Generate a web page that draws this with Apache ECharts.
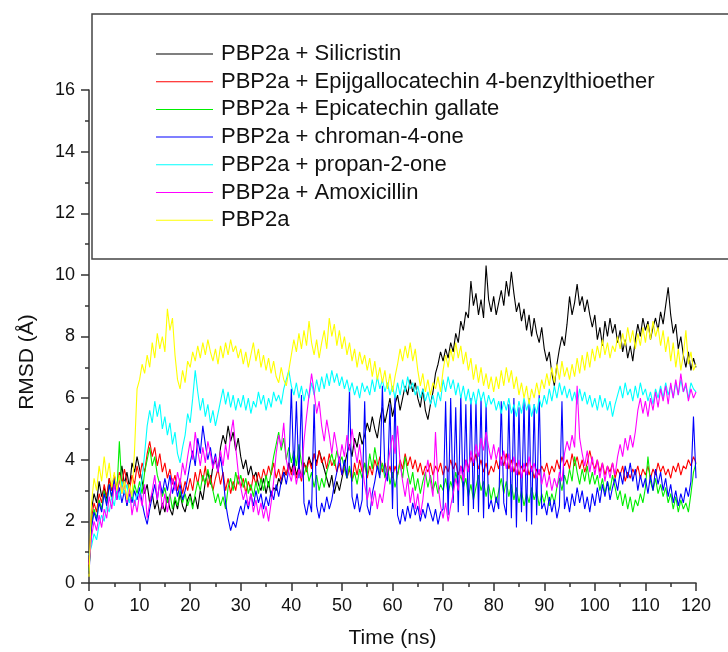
<!DOCTYPE html>
<html>
<head>
<meta charset="utf-8">
<script src="https://cdn.jsdelivr.net/npm/echarts@6/dist/echarts.min.js"></script>
<style>
html,body{margin:0;padding:0;background:#fff;}
#chart{width:728px;height:652px;}
</style>
</head>
<body>
<div id="chart"></div>
<script>
const seriesNames = [
  'PBP2a + Silicristin',
  'PBP2a + Epijgallocatechin 4-benzylthioether',
  'PBP2a + Epicatechin gallate',
  'PBP2a + chroman-4-one',
  'PBP2a + propan-2-one',
  'PBP2a + Amoxicillin',
  'PBP2a'
];
const seriesColors = ['#000000','#ff0000','#00ee00','#0000ff','#00ffff','#ff00ff','#ffff00'];
const timeStep = 0.5; // ns between samples, from 0 to 120 ns

const silicristin = [
0.3,2.4,2.9,2.6,3.3,2.8,3.1,2.7,3.4,3.0,3.5,2.9,3.3,3.8,3.2,3.6,3.1,3.9,3.6,4.1,
3.7,3.3,2.9,3.2,2.6,2.9,2.4,2.7,2.2,2.6,2.3,2.8,2.4,2.2,2.7,2.4,2.9,2.5,2.3,2.7,
2.9,2.5,2.8,2.4,3.0,2.7,3.3,3.6,3.2,3.8,4.0,3.6,4.4,4.8,4.5,5.1,4.6,4.9,4.3,4.7,
4.1,3.7,4.0,3.5,3.8,3.4,3.6,3.2,3.0,3.4,2.9,3.3,2.8,3.1,3.0,3.4,3.2,3.6,3.5,3.9,
3.6,4.0,3.5,3.8,3.4,3.9,3.7,4.1,3.8,4.2,3.9,4.3,4.0,3.7,3.4,3.1,3.5,2.9,3.3,3.0,
3.4,3.8,4.2,4.5,4.1,4.7,4.4,4.9,4.5,4.8,5.2,4.9,5.4,5.0,4.7,5.3,5.7,5.2,5.6,6.0,
5.4,5.8,6.1,5.6,6.0,6.4,6.1,6.6,6.2,6.5,6.0,5.7,6.3,5.6,5.3,5.8,6.2,6.8,7.1,7.5,
7.2,7.6,7.3,7.8,7.5,8.1,7.8,8.5,8.2,8.8,8.6,9.8,9.0,9.4,8.7,9.2,8.6,10.3,9.2,8.8,
9.3,8.7,9.1,9.5,9.0,9.8,9.3,10.1,9.4,8.8,9.1,8.5,8.9,8.2,8.7,8.0,8.6,8.1,7.8,8.3,
7.6,7.2,7.5,6.8,6.4,7.1,7.6,8.0,7.7,8.4,9.3,8.7,9.1,9.7,9.0,9.3,8.8,9.2,8.7,8.3,
8.7,7.9,8.3,7.7,8.5,8.0,8.6,8.1,8.4,7.8,8.2,7.5,7.9,7.3,7.7,7.2,7.9,8.4,8.0,8.6,
8.2,8.5,7.9,8.3,8.6,8.2,8.8,8.4,9.0,9.6,8.7,8.1,8.4,7.6,8.0,7.4,7.0,7.5,6.9,7.3,7.0
];
const epijgallocatechin = [
0.5,2.1,2.6,2.3,2.9,2.6,3.2,2.8,3.4,3.0,3.5,3.1,3.6,3.2,3.7,3.3,3.0,3.5,3.2,3.8,
3.4,3.9,3.6,4.2,4.6,4.1,4.4,3.8,4.2,3.6,3.9,3.4,3.7,3.2,3.5,3.0,3.4,2.9,3.3,3.0,
3.4,3.0,3.6,3.2,3.7,3.3,3.8,3.1,3.5,3.0,3.4,3.7,3.2,3.6,3.0,3.4,2.9,3.3,3.0,3.5,
3.1,3.4,2.9,3.3,3.0,3.5,3.2,3.6,3.3,3.7,3.4,3.8,3.5,3.9,3.4,3.7,3.3,3.8,3.5,3.9,
3.5,3.8,3.4,3.7,3.3,3.9,3.6,4.0,3.7,4.2,3.8,4.3,3.9,4.1,3.7,4.2,3.8,4.0,3.6,3.9,
3.5,3.8,3.4,3.7,3.3,3.9,3.5,4.0,3.6,3.9,3.4,3.8,3.5,4.0,3.7,4.1,3.6,3.9,3.5,3.8,
3.4,3.8,3.5,4.0,3.7,4.2,3.8,4.1,3.7,4.0,3.6,3.9,3.5,3.8,3.6,3.9,3.5,3.8,3.6,3.9,
3.5,3.8,3.6,4.0,3.7,3.9,3.5,3.8,3.6,4.0,3.7,4.1,3.8,4.2,3.7,4.0,3.6,3.9,3.5,3.8,
3.6,4.0,3.7,4.1,3.8,4.2,3.7,4.0,3.6,3.9,3.5,3.8,3.6,3.9,3.5,3.8,3.4,3.7,3.5,3.8,
3.6,3.9,3.5,3.8,3.6,4.0,3.7,4.1,3.8,4.0,3.7,4.2,3.8,4.1,3.7,4.0,3.6,3.9,4.3,3.9,
3.7,4.0,3.6,3.9,3.5,3.8,3.6,3.9,3.4,3.7,3.5,3.8,3.3,3.6,3.4,3.7,3.5,3.8,3.4,3.7,
3.5,3.8,3.4,3.7,3.5,3.9,3.6,3.8,3.5,3.7,3.4,3.8,3.6,3.9,3.5,3.8,3.7,4.0,3.8,4.1,3.9
];
const epicatechinGallate = [
0.4,1.9,2.4,2.1,2.7,2.4,3.0,2.6,3.2,2.7,3.4,2.9,4.6,3.1,3.3,2.5,3.1,2.7,3.2,2.9,
3.3,2.9,3.6,4.0,4.4,3.8,4.1,3.5,3.2,2.8,3.1,2.6,2.9,2.4,2.8,2.5,3.0,2.6,2.9,2.5,
2.8,2.4,2.9,3.3,3.0,3.5,3.2,3.7,3.3,3.0,2.6,2.9,2.5,2.8,2.4,3.1,3.4,3.0,3.6,3.2,
3.5,3.1,3.4,2.9,3.2,2.8,3.3,2.9,3.4,3.0,3.5,3.1,3.6,4.1,4.5,4.9,4.3,4.7,4.0,4.4,
3.9,4.3,3.8,4.5,3.9,3.5,3.8,3.3,3.6,3.1,3.5,3.0,3.4,3.1,3.6,3.9,4.2,3.8,4.3,3.9,
4.1,3.7,3.4,3.8,3.3,3.6,3.2,3.7,3.4,3.9,3.5,4.2,3.7,4.4,3.9,3.5,3.9,3.4,3.8,3.2,
3.6,3.1,3.5,3.9,3.4,4.1,3.6,3.2,3.6,3.0,3.4,2.9,3.3,3.6,3.1,3.5,3.0,3.3,2.9,3.2,
3.0,3.4,2.9,3.3,3.0,3.6,3.2,3.5,3.1,3.4,2.8,3.2,2.7,3.1,3.5,3.0,3.3,2.8,3.2,2.7,
3.1,2.6,3.0,3.4,2.9,3.3,2.8,3.2,2.7,3.1,2.6,3.0,2.5,2.9,2.6,3.1,2.7,3.0,2.5,2.9,
2.6,3.0,2.5,2.9,2.6,3.1,3.4,3.0,3.5,3.2,3.7,3.3,4.1,3.6,3.2,3.7,3.3,3.8,3.2,3.6,
3.2,3.5,3.0,3.4,2.9,3.3,3.0,3.5,3.1,2.7,3.0,2.5,2.9,2.4,2.8,2.3,2.7,2.5,2.9,2.6,
3.1,4.1,3.3,3.0,3.4,2.9,3.2,2.8,3.1,2.6,2.9,2.4,2.8,2.3,2.7,2.4,2.6,2.3,2.9,3.6,3.9
];
const chromanone = [
0.3,1.8,2.3,2.0,2.6,2.3,2.9,2.5,3.2,2.8,3.4,2.7,3.1,2.6,3.0,2.5,2.9,2.6,3.0,2.7,
3.1,2.6,2.2,1.9,2.4,2.8,3.2,2.7,3.3,2.9,3.4,3.0,3.5,2.9,3.3,2.8,3.2,2.7,3.0,3.4,
3.9,4.3,3.8,4.7,4.2,5.1,4.5,4.0,4.4,3.8,4.2,3.6,4.1,3.5,2.6,2.1,1.7,2.0,1.8,2.2,
2.5,2.2,2.7,2.4,2.9,2.5,3.0,2.6,2.9,2.4,2.8,2.5,3.0,2.7,3.2,2.8,3.3,3.6,3.2,3.7,
6.3,3.5,5.9,3.4,6.1,2.6,2.2,2.7,2.3,5.8,2.5,2.1,2.6,2.3,2.8,2.4,2.7,3.2,3.6,4.1,
3.5,4.0,3.4,6.3,2.8,2.4,2.9,2.3,2.7,5.9,2.5,2.2,2.9,3.3,3.8,3.4,6.4,3.6,3.3,5.8,
2.4,6.1,2.2,1.9,2.4,2.0,2.5,2.1,2.6,2.2,2.5,2.0,2.4,2.1,2.6,2.3,2.0,2.4,1.9,2.3,
2.4,5.9,2.2,6.0,2.6,5.7,2.3,6.1,2.5,5.8,2.2,6.0,2.4,5.9,2.3,6.0,2.1,5.8,2.4,2.7,
2.3,2.8,2.4,5.9,2.6,2.2,5.8,2.1,6.0,1.8,5.7,2.3,5.9,2.0,6.0,1.9,5.8,2.2,6.1,2.4,
2.6,2.2,2.8,2.3,2.7,2.1,2.5,5.9,2.4,2.8,2.3,2.9,2.5,3.1,2.6,3.0,2.4,2.8,2.3,2.9,
2.5,3.1,2.6,3.2,2.8,3.3,2.7,3.1,3.4,3.0,3.6,3.2,3.8,3.4,3.9,3.3,3.7,3.0,3.5,3.1,
3.4,2.9,3.5,3.0,3.7,3.2,3.6,3.0,3.4,2.8,3.2,2.6,3.0,2.5,2.9,2.6,3.1,2.8,3.3,5.4,3.4
];
const propanone = [
0.9,1.2,1.6,1.4,1.9,2.2,2.0,2.5,2.3,2.8,2.5,3.1,2.7,3.3,2.9,3.2,2.6,3.0,2.5,2.9,
2.8,3.4,4.2,5.1,5.6,5.2,5.9,5.4,5.8,5.0,5.4,4.8,5.2,4.5,4.9,4.2,3.9,4.4,4.8,5.5,
5.2,6.0,6.9,6.2,5.6,6.0,5.4,5.8,5.2,5.6,5.1,5.5,5.9,6.3,5.8,6.2,5.7,6.1,5.6,6.0,
5.7,6.1,5.6,6.0,5.5,5.9,5.7,6.2,5.8,6.1,5.6,6.0,5.7,6.2,5.9,6.1,5.8,6.3,6.6,6.9,
6.4,6.1,6.5,6.0,6.4,5.9,6.3,6.0,6.5,6.1,6.6,6.2,6.7,6.3,6.8,6.4,6.9,6.5,6.8,6.4,
6.7,6.3,6.6,6.2,6.5,6.1,6.4,6.0,6.5,6.2,6.4,6.1,6.6,6.2,6.7,6.3,6.6,6.2,6.5,6.1,
6.4,6.0,6.5,6.1,6.6,6.2,6.7,6.3,6.5,6.1,6.4,6.0,6.3,5.9,6.2,5.8,6.1,5.7,6.2,5.9,
6.6,6.2,6.7,6.3,6.6,6.1,6.5,6.0,6.4,5.9,6.3,5.8,6.2,5.8,6.3,5.9,6.2,5.7,6.1,5.8,
6.0,5.6,5.9,5.5,5.9,5.6,6.0,5.5,5.8,5.4,5.9,5.5,6.0,5.6,5.9,5.4,5.8,5.5,6.0,5.7,
6.1,5.8,6.3,5.9,6.4,6.0,6.5,6.1,6.4,6.0,6.3,5.9,6.2,5.8,6.3,5.9,6.2,5.8,6.1,5.7,
6.0,5.6,6.1,5.7,6.0,5.6,5.9,5.4,5.8,6.1,6.4,6.0,6.5,6.1,6.3,5.9,6.4,6.0,6.5,6.1,
6.3,5.9,6.2,5.8,6.3,6.0,6.4,6.0,6.5,6.1,6.4,6.0,6.5,6.1,6.6,6.2,6.4,6.0,6.5,6.3,6.2
];
const amoxicillin = [
0.6,1.5,2.0,1.7,2.2,1.8,2.4,2.1,2.8,2.4,3.2,2.7,3.5,2.9,3.3,2.6,3.1,2.2,2.7,2.3,
2.9,2.5,3.2,2.1,2.6,3.0,3.5,2.7,3.3,2.4,2.9,2.3,2.8,3.4,3.0,3.6,3.2,3.9,3.5,4.1,
4.6,4.0,4.9,4.3,3.8,4.4,3.9,4.6,4.2,3.7,4.1,3.6,4.3,3.8,4.5,4.0,4.8,5.3,4.4,3.6,
3.1,2.7,3.0,2.5,2.9,2.3,2.7,2.2,2.6,2.1,2.5,2.0,2.6,3.3,4.2,4.8,4.4,5.2,4.0,3.6,
3.3,3.8,3.2,3.7,3.4,4.6,5.4,6.1,6.8,6.2,5.5,5.9,5.1,4.6,5.3,4.8,4.2,4.9,4.4,3.9,
4.5,4.1,4.8,4.3,5.0,4.4,3.9,4.5,3.8,3.2,2.7,3.1,2.5,3.0,2.4,2.9,2.6,3.2,3.7,4.3,
4.8,4.2,5.1,3.9,3.3,2.8,3.4,2.6,3.1,2.4,2.9,2.2,2.7,3.5,4.0,3.3,2.8,4.9,3.2,2.5,
2.1,2.6,2.0,2.5,2.9,3.4,3.0,3.8,3.3,4.0,3.6,4.3,3.9,4.5,4.1,4.7,4.3,4.9,4.4,4.0,
4.5,4.0,4.4,3.8,4.3,3.7,4.2,3.6,4.1,3.5,4.0,3.4,3.9,3.5,4.1,3.6,3.9,3.4,3.7,3.2,
3.6,3.1,3.5,3.0,3.4,3.1,3.6,3.3,4.2,4.6,4.3,4.8,4.4,6.4,4.7,4.2,3.8,4.3,3.6,4.1,
3.5,4.0,3.4,3.9,3.3,3.8,3.4,3.9,3.5,4.1,4.5,4.1,4.7,4.3,4.8,4.4,4.9,5.6,6.0,5.5,
5.9,5.4,6.0,5.6,6.2,5.7,6.3,5.9,6.4,5.8,6.5,6.0,6.6,6.1,6.8,6.2,6.5,5.9,6.3,6.0,6.2
];
const pbp2a = [
0.2,2.6,3.4,3.0,3.8,3.3,4.1,3.4,3.9,3.1,3.6,3.0,3.5,2.9,3.3,2.7,3.2,2.8,4.3,6.3,
6.6,7.1,6.8,7.4,7.0,7.8,7.3,8.1,7.6,8.0,7.5,8.9,8.2,8.6,7.4,6.6,6.3,6.9,6.5,7.2,
7.0,7.5,7.2,7.7,7.3,7.8,7.4,7.9,7.5,7.2,7.6,7.1,7.7,7.3,7.8,7.4,7.9,7.5,7.7,7.3,
7.6,7.1,7.5,7.0,7.4,7.8,7.2,7.6,7.0,7.4,6.9,7.3,6.8,7.2,6.7,6.5,7.0,6.6,6.4,6.9,
7.4,7.9,7.5,8.1,7.6,8.2,7.7,8.5,7.8,7.4,7.9,7.3,7.8,8.2,7.6,8.6,8.0,8.4,7.7,8.2,
7.6,8.0,7.4,7.8,7.2,7.6,7.0,7.5,7.1,7.4,6.9,7.3,6.7,7.2,6.6,7.0,6.5,6.9,6.3,6.8,
6.2,6.7,7.1,7.6,7.2,7.7,7.3,7.8,7.2,7.6,6.9,6.4,6.8,6.2,6.6,6.1,6.5,6.3,6.7,6.2,
6.9,7.4,7.0,7.6,7.2,7.8,7.3,7.7,7.1,7.5,6.9,7.3,6.6,7.1,6.5,7.0,6.4,6.8,6.3,6.7,
6.2,6.7,6.3,6.9,6.4,7.0,6.5,6.9,6.3,6.7,6.1,6.5,6.0,6.4,5.8,6.3,6.0,6.5,6.1,6.6,
6.3,6.8,6.4,7.0,6.5,7.1,6.6,7.2,6.7,7.0,6.6,7.1,6.7,7.3,6.8,7.4,6.9,7.5,7.0,7.6,
7.2,7.7,7.3,7.9,7.4,7.8,7.3,7.7,7.5,8.0,7.6,8.1,7.7,8.3,7.8,8.2,7.6,8.1,7.7,8.3,
7.8,8.4,7.9,8.5,8.0,8.3,7.7,8.2,7.5,8.0,7.2,7.8,7.0,7.6,6.9,7.4,8.2,7.1,7.5,6.9,7.1
];
const seriesValues = [silicristin, epijgallocatechin, epicatechinGallate, chromanone, propanone, amoxicillin, pbp2a];

const FONT = '"Liberation Sans", Arial, sans-serif';
const chart = echarts.init(document.getElementById('chart'), null, {renderer: 'canvas'});

const series = seriesNames.map((name, i) => ({
  name: name,
  type: 'line',
  data: seriesValues[i].map((v, k) => [k * timeStep, v]),
  showSymbol: false,
  symbol: 'none',
  lineStyle: {color: seriesColors[i], width: 1.1},
  itemStyle: {color: seriesColors[i]},
  emphasis: {disabled: true},
  z: 2 + i
}));

const axisCommon = {
  axisLine: {show: true, onZero: false, lineStyle: {color: '#333', width: 1.5}},
  axisTick: {show: true, inside: false, length: 8, lineStyle: {color: '#333', width: 1.5}},
  minorTick: {show: true, splitNumber: 2, length: 4, lineStyle: {color: '#333', width: 1.5}},
  splitLine: {show: false},
  minorSplitLine: {show: false}
};

chart.setOption({
  animation: false,
  backgroundColor: '#ffffff',
  grid: {left: 89, right: 32, top: 90, bottom: 69, containLabel: false, outerBoundsMode: 'none'},
  xAxis: Object.assign({
    type: 'value', min: 0, max: 120, interval: 10,
    name: 'Time (ns)', nameLocation: 'middle', nameGap: 45,
    nameTextStyle: {fontFamily: FONT, fontSize: 21, color: '#111'},
    axisLabel: {fontFamily: FONT, fontSize: 18, color: '#111', margin: 14}
  }, axisCommon),
  yAxis: Object.assign({
    type: 'value', min: 0, max: 16, interval: 2,
    axisLabel: {fontFamily: FONT, fontSize: 18, color: '#111', margin: 14}
  }, axisCommon),
  legend: {
    show: true, orient: 'vertical', left: 151, top: 38,
    icon: 'rect', itemWidth: 57, itemHeight: 1, itemGap: 5.7,
    selectedMode: false, z: 10,
    textStyle: {fontFamily: FONT, fontSize: 22, color: '#111', lineHeight: 22, padding: [0, 0, 0, 3]},
    data: seriesNames.map((n, i) => ({name: n, itemStyle: {color: seriesColors[i]}}))
  },
  graphic: [
    {type: 'rect', z: 1, shape: {x: 92, y: 14, width: 660, height: 245},
     style: {fill: '#ffffff', stroke: '#444', lineWidth: 1.5}},
    {type: 'text', z: 10, x: 27, y: 362, rotation: Math.PI / 2,
     style: {text: 'RMSD (Å)', font: '21px ' + FONT, fill: '#111', textAlign: 'center', textVerticalAlign: 'middle'}}
  ],
  series: series
});
</script>
</body>
</html>
